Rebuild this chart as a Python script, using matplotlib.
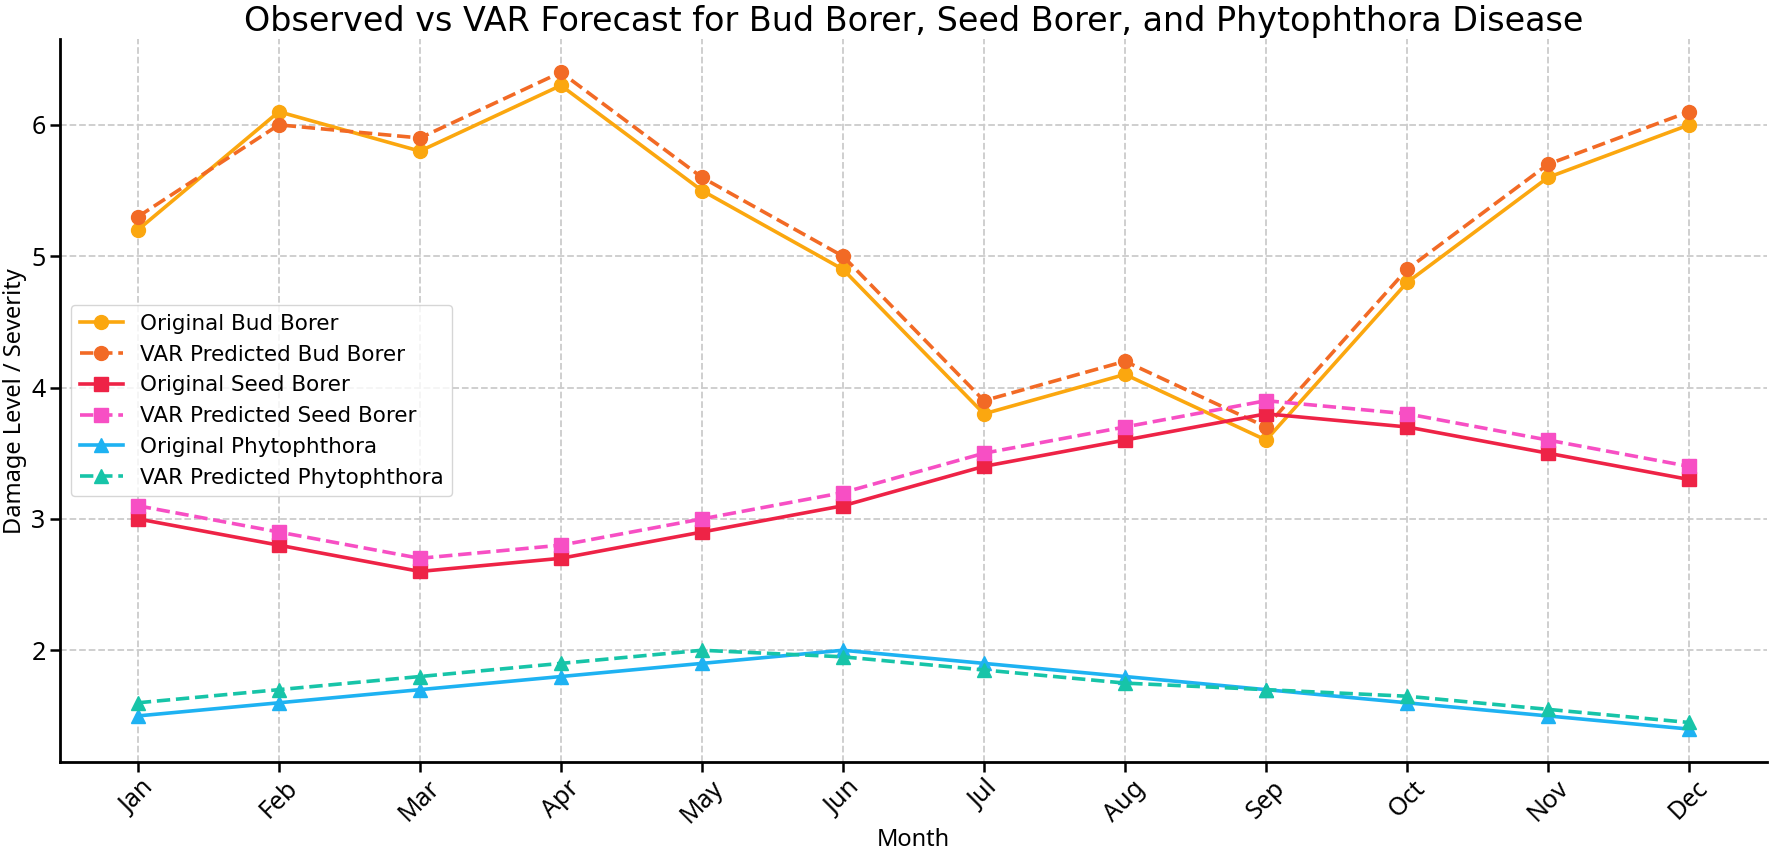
import matplotlib
matplotlib.use("Agg")
import matplotlib.pyplot as plt
import numpy as np

months = ['Jan', 'Feb', 'Mar', 'Apr', 'May', 'Jun', 'Jul', 'Aug', 'Sep', 'Oct', 'Nov', 'Dec']
bud_orig = [5.2, 6.1, 5.8, 6.3, 5.5, 4.9, 3.8, 4.1, 3.6, 4.8, 5.6, 6.0]
bud_pred = [5.3, 6.0, 5.9, 6.4, 5.6, 5.0, 3.9, 4.2, 3.7, 4.9, 5.7, 6.1]
seed_orig = [3.0, 2.8, 2.6, 2.7, 2.9, 3.1, 3.4, 3.6, 3.8, 3.7, 3.5, 3.3]
seed_pred = [3.1, 2.9, 2.7, 2.8, 3.0, 3.2, 3.5, 3.7, 3.9, 3.8, 3.6, 3.4]
phy_orig = [1.5, 1.6, 1.7, 1.8, 1.9, 2.0, 1.9, 1.8, 1.7, 1.6, 1.5, 1.4]
phy_pred = [1.6, 1.7, 1.8, 1.9, 2.0, 1.95, 1.85, 1.75, 1.7, 1.65, 1.55, 1.45]

x = np.arange(len(months))
fig, ax = plt.subplots(figsize=(17.72, 8.58), dpi=100)
lw, ms = 2.6, 10
ax.plot(x, bud_orig, '-o', color='#FBA70F', lw=lw, ms=ms, label='Original Bud Borer')
ax.plot(x, bud_pred, '--o', color='#F26A25', lw=lw, ms=ms, label='VAR Predicted Bud Borer')
ax.plot(x, seed_orig, '-s', color='#EE2346', lw=lw, ms=ms, label='Original Seed Borer')
ax.plot(x, seed_pred, '--s', color='#F74FC4', lw=lw, ms=ms, label='VAR Predicted Seed Borer')
ax.plot(x, phy_orig, '-^', color='#1EB2F2', lw=lw, ms=ms, label='Original Phytophthora')
ax.plot(x, phy_pred, '--^', color='#17C4A8', lw=lw, ms=ms, label='VAR Predicted Phytophthora')

tick_font = dict(family='Noto Sans', size=18)
ax.set_xticks(x)
ax.set_xticklabels(months, rotation=45, fontdict=tick_font)
ax.set_yticks([2, 3, 4, 5, 6])
ax.set_yticklabels(['2', '3', '4', '5', '6'], fontdict=tick_font)
ax.tick_params(width=1.8, length=7)
ax.tick_params(axis='x', pad=3)
ax.set_title('Observed vs VAR Forecast for Bud Borer, Seed Borer, and Phytophthora Disease', fontsize=24)
ax.set_xlabel('Month', fontsize=17, labelpad=0, family='Noto Sans')
ax.set_ylabel('Damage Level / Severity', fontsize=17, labelpad=3, family='Noto Sans')
ax.grid(True, linestyle='--', color='#cccccc', lw=1.3)
ax.spines['top'].set_visible(False)
ax.spines['right'].set_visible(False)
ax.spines['left'].set_linewidth(2)
ax.spines['bottom'].set_linewidth(2)
ax.legend(loc='center left', fontsize=15.5, frameon=True)
fig.subplots_adjust(left=0.034, right=0.997, top=0.954, bottom=0.112)
fig.savefig('out.png', dpi=100)
